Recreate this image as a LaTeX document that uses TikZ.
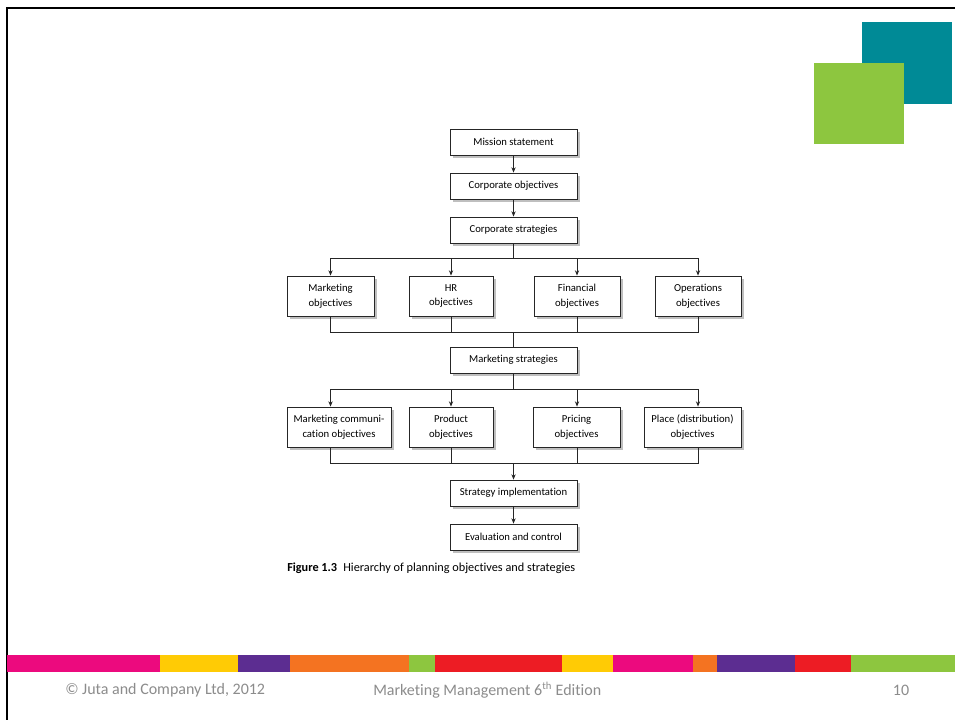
\documentclass[tikz,border=0pt]{standalone}
\usepackage{fontspec}
\setmainfont[Ligatures=NoCommon]{Carlito}
\usetikzlibrary{arrows.meta,shadows,calc}
\definecolor{cmag}{HTML}{EC0A7E}
\definecolor{cyel}{HTML}{FFCB05}
\definecolor{cpur}{HTML}{5C2D91}
\definecolor{cora}{HTML}{F47321}
\definecolor{cgrn}{HTML}{8DC63F}
\definecolor{cred}{HTML}{ED1C24}
\definecolor{cteal}{HTML}{008A96}
\definecolor{foot}{HTML}{8C8C8C}
\tikzset{
  x=0.75pt,y=-0.75pt,
  box/.style={draw=black!85,line width=0.6pt,fill=white,inner sep=1pt,align=center,
    font=\fontsize{8}{11}\selectfont,
    drop shadow={shadow xshift=2pt,shadow yshift=-2pt,opacity=0.25,fill=black}},
  wide/.style={box,minimum width=95.25pt,minimum height=19.5pt},
  tall/.style={box,minimum height=30pt},
  conn/.style={line width=0.6pt,draw=black!85},
  arr/.style={conn,-{Stealth[length=4pt,width=3.2pt]}},
  foottext/.style={text=foot,font=\fontsize{12}{14}\selectfont,inner sep=0pt},
}
\begin{document}
\begin{tikzpicture}
\useasboundingbox (0,0) rectangle (955,720);
\fill[white] (0,0) rectangle (955,720);
% frame
\draw[line width=1.6pt,black] (955,8) -- (7,8) -- (7,720);
% squares
\fill[cteal] (862,22) rectangle (952,104);
\fill[cgrn] (814,63) rectangle (904,144);
% colour bar
\foreach \a/\b/\c in {7/160/cmag,160/238/cyel,238/290/cpur,290/409/cora,409/435/cgrn,435/562/cred,562/613/cyel,613/693/cmag,693/717/cora,717/795/cpur,795/851/cred,851/955/cgrn}
  \fill[\c] (\a,655) rectangle (\b,672);
% footer
\node[foottext,anchor=west] (f1) at (65,690) {© Juta and Company Ltd, 2012};
\node[foottext,anchor=west] (f2) at (373,690) {Marketing Management 6\textsuperscript{th} Edition};
\node[foottext] (f3) at (901,690) {10};
% boxes
\node[wide] (ms) at (513.5,142) {Mission statement};
\node[wide] (co) at (513.5,186) {Corporate objectives};
\node[wide] (cs) at (513.5,230) {Corporate strategies};
\node[tall,minimum width=65.25pt] (mo) at (330.5,296) {Marketing\\objectives};
\node[tall,minimum width=63pt] (hr) at (451,296) {HR\\objectives};
\node[tall,minimum width=64.5pt] (fo) at (577,296) {Financial\\objectives};
\node[tall,minimum width=64.5pt] (oo) at (698,296) {Operations\\objectives};
\node[wide] (mstr) at (513.5,360) {Marketing strategies};
\node[tall,minimum width=78pt] (mc) at (339,427) {Marketing communi-\\cation objectives};
\node[tall,minimum width=63pt] (po) at (451,427) {Product\\objectives};
\node[tall,minimum width=65.25pt] (pr) at (576.5,427) {Pricing\\objectives};
\node[tall,minimum width=72.75pt] (pl) at (692.5,427) {Place (distribution)\\objectives};
\node[wide] (si) at (513.5,493) {Strategy implementation};
\node[wide] (ec) at (513.5,537) {Evaluation and control};
% caption
\node[anchor=west,inner sep=0pt,font=\fontsize{9.2}{11}\selectfont] (cap) at (287,568) {\textbf{Figure 1.3}\enspace Hierarchy of planning objectives and strategies};
% coordinates
\coordinate (b1) at (513.5,258);
\coordinate (b2) at (513.5,332);
\coordinate (b3) at (513.5,389);
\coordinate (b4) at (513.5,463);
% connectors
\draw[arr] (ms) -- (co);
\draw[arr] (co) -- (cs);
\draw[conn] (cs.south) -- (b1);
\draw[arr] (b1) -| (mo.north);
\draw[arr] (b1) -| (hr.north);
\draw[arr] (b1) -| (fo.north);
\draw[arr] (b1) -| (oo.north);
\draw[conn] (mo.south) |- (b2);
\draw[conn] (hr.south) |- (b2);
\draw[conn] (fo.south) |- (b2);
\draw[conn] (oo.south) |- (b2);
\draw[conn] (b2) -- (mstr.north);
\draw[conn] (mstr.south) -- (b3);
\draw[arr] (b3) -| (mc.north -| mo.north);
\draw[arr] (b3) -| (po.north);
\draw[arr] (b3) -| (pr.north -| fo.north);
\draw[arr] (b3) -| (pl.north -| oo.north);
\draw[conn] (mc.south -| mo.south) |- (b4);
\draw[conn] (po.south) |- (b4);
\draw[conn] (pr.south -| fo.south) |- (b4);
\draw[conn] (pl.south -| oo.south) |- (b4);
\draw[arr] (b4) -- (si.north);
\draw[arr] (si) -- (ec);
\end{tikzpicture}
\end{document}
